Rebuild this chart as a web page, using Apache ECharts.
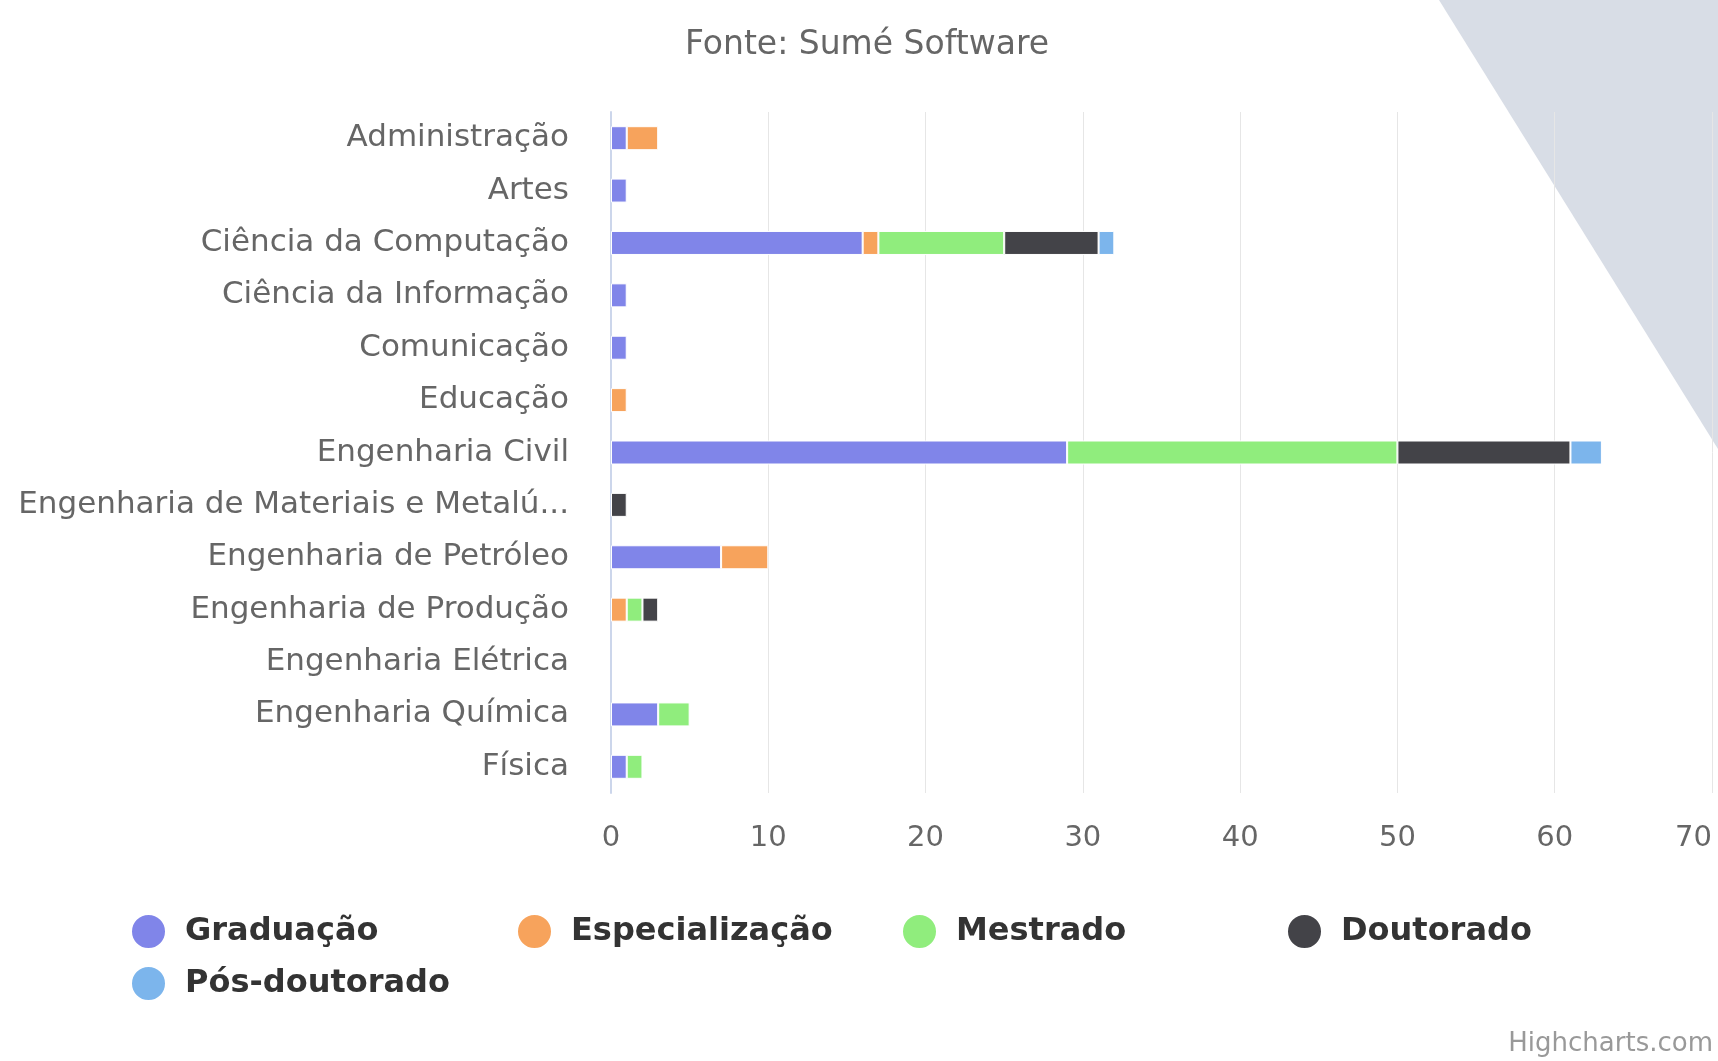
<!DOCTYPE html>
<html lang="pt">
<head>
    <meta charset="UTF-8">
    <title>Fonte: Sumé Software</title>
    <script src="https://cdn.jsdelivr.net/npm/echarts@6.0.0/dist/echarts.min.js"></script>
    <style>
        html, body { margin: 0; padding: 0; background: #fff; }
        #chart { width: 1718px; height: 1061px; }
    </style>
</head>
<body>
    <div id="chart"></div>
    <script>
        // dados
        const cursos = [
            'Administração', 'Artes', 'Ciência da Computação', 'Ciência da Informação',
            'Comunicação', 'Educação', 'Engenharia Civil', 'Engenharia de Materiais e Metalúrgica',
            'Engenharia de Petróleo', 'Engenharia de Produção', 'Engenharia Elétrica',
            'Engenharia Química', 'Física'
        ];
        const graduacao       = [1, 1, 16, 1, 1, null, 29, null, 7, null, null, 3, 1];
        const especializacao  = [2, null, 1, null, null, 1, null, null, 3, 1, null, null, null];
        const mestrado        = [null, null, 8, null, null, null, 21, null, null, 1, null, 2, 1];
        const doutorado       = [null, null, 6, null, null, null, 11, 1, null, 1, null, null, null];
        const posDoutorado    = [null, null, 1, null, null, null, 2, null, null, null, null, null, null];
        const xTicks = [0, 10, 20, 30, 40, 50, 60, 70];

        const nomes = ['Graduação', 'Especialização', 'Mestrado', 'Doutorado', 'Pós-doutorado'];
        const valores = [graduacao, especializacao, mestrado, doutorado, posDoutorado];
        const cores = ['#8085e9', '#f7a35c', '#90ed7d', '#434348', '#7cb5ec'];
        const fonte = '"DejaVu Sans", sans-serif';

        let chart = echarts.init(document.getElementById('chart'));

        // uma legenda por item para imitar as colunas fixas do Highcharts
        const legendPos = [[130, 913], [516, 913], [901, 913], [1286, 913], [130, 965]];
        const legends = nomes.map((n, i) => ({
            data: [n],
            left: legendPos[i][0],
            top: legendPos[i][1],
            padding: 0,
            icon: 'circle',
            itemWidth: 35,
            itemHeight: 35,
            selectedMode: false,
            textStyle: {
                color: '#333', fontSize: 32, fontWeight: 'bold', fontFamily: fonte,
                padding: [0, 0, 0, 14]
            }
        }));

        let option = {
            backgroundColor: '#fff',
            animation: false,
            color: cores,
            title: {
                text: 'Fonte: Sumé Software',
                left: 680,
                top: 24,
                textStyle: { color: '#666', fontSize: 33, fontWeight: 'normal', fontFamily: fonte }
            },
            legend: legends,
            grid: { left: 611, right: 6, top: 112, height: 681, containLabel: false },
            xAxis: {
                type: 'value',
                min: 0,
                max: xTicks[xTicks.length - 1],
                interval: 10,
                axisLine: { show: false },
                axisTick: { show: false },
                axisLabel: { color: '#666', fontSize: 29, fontFamily: fonte, margin: 31, alignMaxLabel: 'right' },
                splitLine: { show: true, lineStyle: { color: '#e6e6e6', width: 1 } }
            },
            yAxis: {
                type: 'category',
                data: cursos,
                inverse: true,
                axisLine: { show: true, lineStyle: { color: '#ccd6eb', width: 2 } },
                axisTick: { show: false },
                axisLabel: {
                    color: '#666', fontSize: 31, fontFamily: fonte, margin: 42,
                    padding: [7, 0, 0, 0],
                    width: 552, overflow: 'truncate', ellipsis: '...'
                }
            },
            graphic: [
                {
                    type: 'polygon',
                    z: -10,
                    silent: true,
                    shape: { points: [[1439, 0], [1718, 0], [1718, 449]] },
                    style: { fill: '#d8dde6' }
                },
                {
                    type: 'text',
                    right: 5,
                    bottom: 4,
                    style: { text: 'Highcharts.com', fill: '#999', font: '26px "DejaVu Sans", sans-serif' }
                }
            ],
            series: nomes.map((n, i) => ({
                name: n,
                type: 'bar',
                stack: 'total',
                barWidth: 24,
                data: valores[i],
                itemStyle: { color: cores[i], borderColor: '#fff', borderWidth: 1 }
            }))
        };
        chart.setOption(option);
    </script>
</body>
</html>
